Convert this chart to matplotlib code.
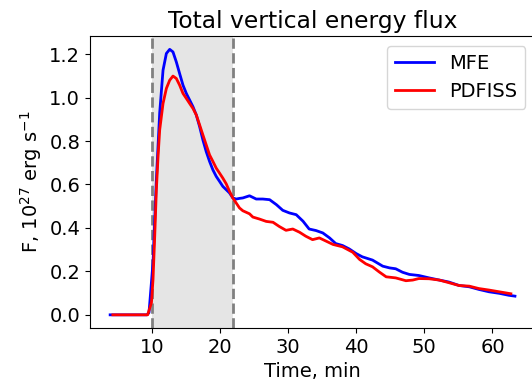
import numpy as np
import matplotlib.pyplot as plt

# MFE (blue)
t_mfe = [3.9, 6.0, 8.0, 9.3, 9.6, 10.19, 10.68, 11.17, 11.66, 12.15, 12.64, 13.12, 13.61,
         14.10, 14.59, 15.08, 15.56, 16.05, 16.54, 17.03, 17.51, 18.0, 18.49, 18.98,
         19.47, 19.96, 20.44, 20.93, 21.42, 21.9, 22.39, 22.9, 23.37, 24.35, 25.33,
         26.3, 27.3, 28.3, 29.23, 30.2, 31.2, 32.2, 33.1, 34.1, 35.1, 36.1, 37.0,
         38.0, 39.0, 40.0, 40.9, 42.4, 43.9, 44.9, 45.8, 46.8, 47.8, 49.2, 50.7,
         52.2, 53.6, 55.1, 56.6, 58.0, 59.5, 61.0, 62.4, 63.3]
f_mfe = [0.0, 0.0, 0.0, 0.0, 0.01, 0.24, 0.62, 0.93, 1.126, 1.203, 1.222, 1.21, 1.164,
         1.11, 1.057, 1.019, 0.989, 0.958, 0.92, 0.866, 0.805, 0.751, 0.706, 0.667,
         0.637, 0.614, 0.591, 0.576, 0.561, 0.538, 0.533, 0.536, 0.538, 0.548, 0.533,
         0.533, 0.530, 0.507, 0.481, 0.469, 0.461, 0.431, 0.395, 0.388, 0.377, 0.354,
         0.328, 0.319, 0.303, 0.282, 0.267, 0.252, 0.224, 0.216, 0.212, 0.196, 0.186,
         0.181, 0.170, 0.160, 0.151, 0.135, 0.129, 0.117, 0.106, 0.099, 0.090, 0.086]

# PDFISS (red)
t_pdf = [4.3, 6.0, 8.0, 9.4, 9.96, 10.19, 10.44, 10.68, 10.93, 11.17, 11.66, 12.15,
         12.64, 13.12, 13.61, 14.10, 14.59, 15.08, 15.56, 16.05, 16.54, 17.03, 17.51,
         18.0, 18.49, 18.98, 19.47, 19.96, 20.44, 20.93, 21.42, 21.9, 22.39, 22.88,
         23.37, 23.86, 24.35, 24.84, 25.8, 26.8, 27.8, 28.7, 29.7, 30.7, 31.7, 32.6,
         33.6, 34.6, 35.6, 36.6, 38.0, 39.5, 40.5, 41.4, 42.4, 43.4, 44.4, 45.8,
         47.3, 48.3, 49.2, 50.7, 52.2, 53.6, 55.1, 56.6, 58.0, 59.5, 61.0, 62.7]
f_pdf = [0.0, 0.0, 0.0, 0.0, 0.056, 0.163, 0.362, 0.576, 0.729, 0.851, 0.973, 1.042,
         1.08, 1.099, 1.088, 1.057, 1.019, 0.996, 0.973, 0.95, 0.92, 0.874, 0.828,
         0.782, 0.736, 0.706, 0.675, 0.652, 0.629, 0.603, 0.568, 0.538, 0.515, 0.492,
         0.479, 0.472, 0.465, 0.450, 0.441, 0.430, 0.426, 0.407, 0.389, 0.395, 0.380,
         0.362, 0.346, 0.354, 0.339, 0.324, 0.313, 0.288, 0.255, 0.235, 0.221, 0.197,
         0.175, 0.170, 0.157, 0.160, 0.167, 0.166, 0.160, 0.148, 0.135, 0.132, 0.121,
         0.114, 0.106, 0.097]

t_start, t_end = 10, 22

plt.rcParams['font.size'] = 14

fig = plt.figure(figsize=(5.32, 3.92), dpi=100)
ax = fig.add_axes([0.169, 0.163, 0.837, 0.745])

ax.axvspan(t_start, t_end, color='gray', alpha=0.2, lw=0)
ax.axvline(t_start, color='gray', ls='--', lw=2)
ax.axvline(t_end, color='gray', ls='--', lw=2)

ax.plot(t_mfe, f_mfe, color='blue', lw=2, label='MFE')
ax.plot(t_pdf, f_pdf, color='red', lw=2, label='PDFISS')

ax.set_title('Total vertical energy flux')
ax.set_xlabel('Time, min')
ax.set_ylabel(r'F, $10^{27}$ erg s$^{-1}$')
ax.legend(loc='upper right')

fig.savefig('out.png', dpi=100)
